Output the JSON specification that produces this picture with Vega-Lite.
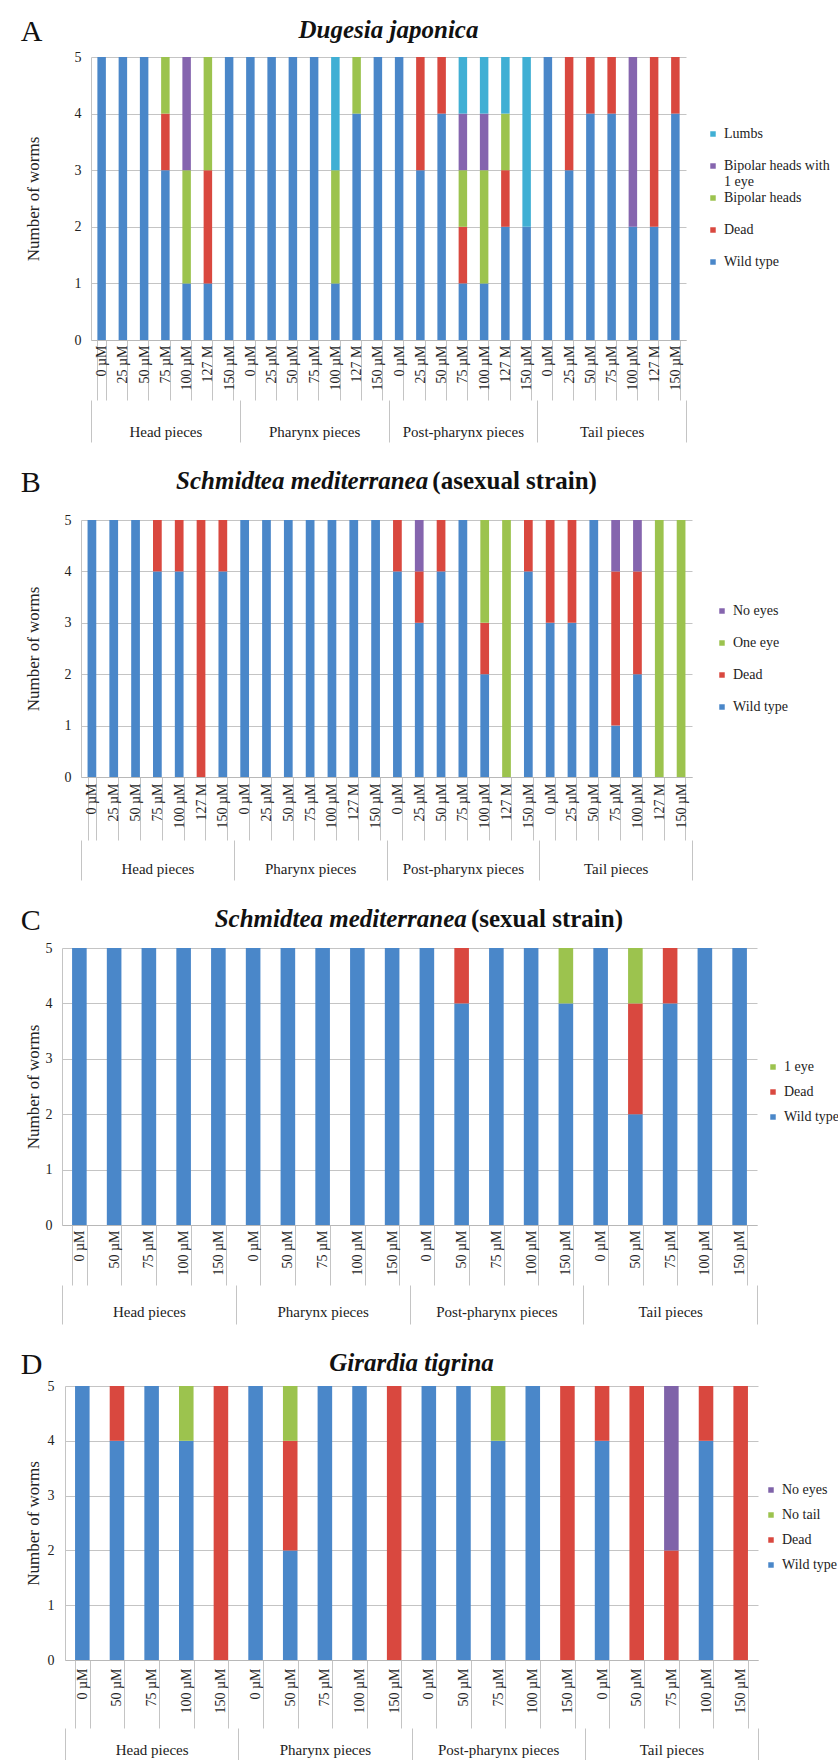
{
  "$schema": "https://vega.github.io/schema/vega-lite/v6.json",
  "background": "white",
  "padding": {"left": 17, "top": 17, "right": 0, "bottom": 0},
  "columns": 1,
  "align": "none",
  "spacing": 25,
  "config": {
    "font": "Liberation Serif",
    "view": {"stroke": null},
    "axis": {"labelFont": "Liberation Serif", "titleFont": "Liberation Serif", "labelColor": "#222", "titleColor": "#222", "domainColor": "#b8b8b8", "tickColor": "#c4c4c4", "gridColor": "#c4c4c4", "titleFontWeight": "normal"},
    "legend": {"labelFont": "Liberation Serif", "labelFontSize": 14, "labelColor": "#222", "symbolType": "square", "symbolSize": 30, "symbolStrokeWidth": 0, "padding": 0},
    "title": {"font": "Liberation Serif", "color": "#111"}
  },
  "datasets": {
    "S": [{"s": 0}],
    "A": [
      {"piece": "Head pieces", "key": "H|0 µM", "cat": "Wild type", "n": 5, "rank": 1},
      {"piece": "Head pieces", "key": "H|25 µM", "cat": "Wild type", "n": 5, "rank": 1},
      {"piece": "Head pieces", "key": "H|50 µM", "cat": "Wild type", "n": 5, "rank": 1},
      {"piece": "Head pieces", "key": "H|75 µM", "cat": "Wild type", "n": 3, "rank": 1},
      {"piece": "Head pieces", "key": "H|75 µM", "cat": "Dead", "n": 1, "rank": 2},
      {"piece": "Head pieces", "key": "H|75 µM", "cat": "Bipolar heads", "n": 1, "rank": 3},
      {"piece": "Head pieces", "key": "H|100 µM", "cat": "Wild type", "n": 1, "rank": 1},
      {"piece": "Head pieces", "key": "H|100 µM", "cat": "Bipolar heads", "n": 2, "rank": 3},
      {"piece": "Head pieces", "key": "H|100 µM", "cat": "Bipolar heads with 1 eye", "n": 2, "rank": 4},
      {"piece": "Head pieces", "key": "H|127 M", "cat": "Wild type", "n": 1, "rank": 1},
      {"piece": "Head pieces", "key": "H|127 M", "cat": "Dead", "n": 2, "rank": 2},
      {"piece": "Head pieces", "key": "H|127 M", "cat": "Bipolar heads", "n": 2, "rank": 3},
      {"piece": "Head pieces", "key": "H|150 µM", "cat": "Wild type", "n": 5, "rank": 1},
      {"piece": "Pharynx pieces", "key": "P|0 µM", "cat": "Wild type", "n": 5, "rank": 1},
      {"piece": "Pharynx pieces", "key": "P|25 µM", "cat": "Wild type", "n": 5, "rank": 1},
      {"piece": "Pharynx pieces", "key": "P|50 µM", "cat": "Wild type", "n": 5, "rank": 1},
      {"piece": "Pharynx pieces", "key": "P|75 µM", "cat": "Wild type", "n": 5, "rank": 1},
      {"piece": "Pharynx pieces", "key": "P|100 µM", "cat": "Wild type", "n": 1, "rank": 1},
      {"piece": "Pharynx pieces", "key": "P|100 µM", "cat": "Bipolar heads", "n": 2, "rank": 3},
      {"piece": "Pharynx pieces", "key": "P|100 µM", "cat": "Lumbs", "n": 2, "rank": 5},
      {"piece": "Pharynx pieces", "key": "P|127 M", "cat": "Wild type", "n": 4, "rank": 1},
      {"piece": "Pharynx pieces", "key": "P|127 M", "cat": "Bipolar heads", "n": 1, "rank": 3},
      {"piece": "Pharynx pieces", "key": "P|150 µM", "cat": "Wild type", "n": 5, "rank": 1},
      {"piece": "Post-pharynx pieces", "key": "PP|0 µM", "cat": "Wild type", "n": 5, "rank": 1},
      {"piece": "Post-pharynx pieces", "key": "PP|25 µM", "cat": "Wild type", "n": 3, "rank": 1},
      {"piece": "Post-pharynx pieces", "key": "PP|25 µM", "cat": "Dead", "n": 2, "rank": 2},
      {"piece": "Post-pharynx pieces", "key": "PP|50 µM", "cat": "Wild type", "n": 4, "rank": 1},
      {"piece": "Post-pharynx pieces", "key": "PP|50 µM", "cat": "Dead", "n": 1, "rank": 2},
      {"piece": "Post-pharynx pieces", "key": "PP|75 µM", "cat": "Wild type", "n": 1, "rank": 1},
      {"piece": "Post-pharynx pieces", "key": "PP|75 µM", "cat": "Dead", "n": 1, "rank": 2},
      {"piece": "Post-pharynx pieces", "key": "PP|75 µM", "cat": "Bipolar heads", "n": 1, "rank": 3},
      {"piece": "Post-pharynx pieces", "key": "PP|75 µM", "cat": "Bipolar heads with 1 eye", "n": 1, "rank": 4},
      {"piece": "Post-pharynx pieces", "key": "PP|75 µM", "cat": "Lumbs", "n": 1, "rank": 5},
      {"piece": "Post-pharynx pieces", "key": "PP|100 µM", "cat": "Wild type", "n": 1, "rank": 1},
      {"piece": "Post-pharynx pieces", "key": "PP|100 µM", "cat": "Bipolar heads", "n": 2, "rank": 3},
      {"piece": "Post-pharynx pieces", "key": "PP|100 µM", "cat": "Bipolar heads with 1 eye", "n": 1, "rank": 4},
      {"piece": "Post-pharynx pieces", "key": "PP|100 µM", "cat": "Lumbs", "n": 1, "rank": 5},
      {"piece": "Post-pharynx pieces", "key": "PP|127 M", "cat": "Wild type", "n": 2, "rank": 1},
      {"piece": "Post-pharynx pieces", "key": "PP|127 M", "cat": "Dead", "n": 1, "rank": 2},
      {"piece": "Post-pharynx pieces", "key": "PP|127 M", "cat": "Bipolar heads", "n": 1, "rank": 3},
      {"piece": "Post-pharynx pieces", "key": "PP|127 M", "cat": "Lumbs", "n": 1, "rank": 5},
      {"piece": "Post-pharynx pieces", "key": "PP|150 µM", "cat": "Wild type", "n": 2, "rank": 1},
      {"piece": "Post-pharynx pieces", "key": "PP|150 µM", "cat": "Lumbs", "n": 3, "rank": 5},
      {"piece": "Tail pieces", "key": "T|0 µM", "cat": "Wild type", "n": 5, "rank": 1},
      {"piece": "Tail pieces", "key": "T|25 µM", "cat": "Wild type", "n": 3, "rank": 1},
      {"piece": "Tail pieces", "key": "T|25 µM", "cat": "Dead", "n": 2, "rank": 2},
      {"piece": "Tail pieces", "key": "T|50 µM", "cat": "Wild type", "n": 4, "rank": 1},
      {"piece": "Tail pieces", "key": "T|50 µM", "cat": "Dead", "n": 1, "rank": 2},
      {"piece": "Tail pieces", "key": "T|75 µM", "cat": "Wild type", "n": 4, "rank": 1},
      {"piece": "Tail pieces", "key": "T|75 µM", "cat": "Dead", "n": 1, "rank": 2},
      {"piece": "Tail pieces", "key": "T|100 µM", "cat": "Wild type", "n": 2, "rank": 1},
      {"piece": "Tail pieces", "key": "T|100 µM", "cat": "Bipolar heads with 1 eye", "n": 3, "rank": 4},
      {"piece": "Tail pieces", "key": "T|127 M", "cat": "Wild type", "n": 2, "rank": 1},
      {"piece": "Tail pieces", "key": "T|127 M", "cat": "Dead", "n": 3, "rank": 2},
      {"piece": "Tail pieces", "key": "T|150 µM", "cat": "Wild type", "n": 4, "rank": 1},
      {"piece": "Tail pieces", "key": "T|150 µM", "cat": "Dead", "n": 1, "rank": 2}
    ],
    "B": [
      {"piece": "Head pieces", "key": "H|0 µM", "cat": "Wild type", "n": 5, "rank": 1},
      {"piece": "Head pieces", "key": "H|25 µM", "cat": "Wild type", "n": 5, "rank": 1},
      {"piece": "Head pieces", "key": "H|50 µM", "cat": "Wild type", "n": 5, "rank": 1},
      {"piece": "Head pieces", "key": "H|75 µM", "cat": "Wild type", "n": 4, "rank": 1},
      {"piece": "Head pieces", "key": "H|75 µM", "cat": "Dead", "n": 1, "rank": 2},
      {"piece": "Head pieces", "key": "H|100 µM", "cat": "Wild type", "n": 4, "rank": 1},
      {"piece": "Head pieces", "key": "H|100 µM", "cat": "Dead", "n": 1, "rank": 2},
      {"piece": "Head pieces", "key": "H|127 M", "cat": "Dead", "n": 5, "rank": 2},
      {"piece": "Head pieces", "key": "H|150 µM", "cat": "Wild type", "n": 4, "rank": 1},
      {"piece": "Head pieces", "key": "H|150 µM", "cat": "Dead", "n": 1, "rank": 2},
      {"piece": "Pharynx pieces", "key": "P|0 µM", "cat": "Wild type", "n": 5, "rank": 1},
      {"piece": "Pharynx pieces", "key": "P|25 µM", "cat": "Wild type", "n": 5, "rank": 1},
      {"piece": "Pharynx pieces", "key": "P|50 µM", "cat": "Wild type", "n": 5, "rank": 1},
      {"piece": "Pharynx pieces", "key": "P|75 µM", "cat": "Wild type", "n": 5, "rank": 1},
      {"piece": "Pharynx pieces", "key": "P|100 µM", "cat": "Wild type", "n": 5, "rank": 1},
      {"piece": "Pharynx pieces", "key": "P|127 M", "cat": "Wild type", "n": 5, "rank": 1},
      {"piece": "Pharynx pieces", "key": "P|150 µM", "cat": "Wild type", "n": 5, "rank": 1},
      {"piece": "Post-pharynx pieces", "key": "PP|0 µM", "cat": "Wild type", "n": 4, "rank": 1},
      {"piece": "Post-pharynx pieces", "key": "PP|0 µM", "cat": "Dead", "n": 1, "rank": 2},
      {"piece": "Post-pharynx pieces", "key": "PP|25 µM", "cat": "Wild type", "n": 3, "rank": 1},
      {"piece": "Post-pharynx pieces", "key": "PP|25 µM", "cat": "Dead", "n": 1, "rank": 2},
      {"piece": "Post-pharynx pieces", "key": "PP|25 µM", "cat": "No eyes", "n": 1, "rank": 4},
      {"piece": "Post-pharynx pieces", "key": "PP|50 µM", "cat": "Wild type", "n": 4, "rank": 1},
      {"piece": "Post-pharynx pieces", "key": "PP|50 µM", "cat": "Dead", "n": 1, "rank": 2},
      {"piece": "Post-pharynx pieces", "key": "PP|75 µM", "cat": "Wild type", "n": 5, "rank": 1},
      {"piece": "Post-pharynx pieces", "key": "PP|100 µM", "cat": "Wild type", "n": 2, "rank": 1},
      {"piece": "Post-pharynx pieces", "key": "PP|100 µM", "cat": "Dead", "n": 1, "rank": 2},
      {"piece": "Post-pharynx pieces", "key": "PP|100 µM", "cat": "One eye", "n": 2, "rank": 3},
      {"piece": "Post-pharynx pieces", "key": "PP|127 M", "cat": "One eye", "n": 5, "rank": 3},
      {"piece": "Post-pharynx pieces", "key": "PP|150 µM", "cat": "Wild type", "n": 4, "rank": 1},
      {"piece": "Post-pharynx pieces", "key": "PP|150 µM", "cat": "Dead", "n": 1, "rank": 2},
      {"piece": "Tail pieces", "key": "T|0 µM", "cat": "Wild type", "n": 3, "rank": 1},
      {"piece": "Tail pieces", "key": "T|0 µM", "cat": "Dead", "n": 2, "rank": 2},
      {"piece": "Tail pieces", "key": "T|25 µM", "cat": "Wild type", "n": 3, "rank": 1},
      {"piece": "Tail pieces", "key": "T|25 µM", "cat": "Dead", "n": 2, "rank": 2},
      {"piece": "Tail pieces", "key": "T|50 µM", "cat": "Wild type", "n": 5, "rank": 1},
      {"piece": "Tail pieces", "key": "T|75 µM", "cat": "Wild type", "n": 1, "rank": 1},
      {"piece": "Tail pieces", "key": "T|75 µM", "cat": "Dead", "n": 3, "rank": 2},
      {"piece": "Tail pieces", "key": "T|75 µM", "cat": "No eyes", "n": 1, "rank": 4},
      {"piece": "Tail pieces", "key": "T|100 µM", "cat": "Wild type", "n": 2, "rank": 1},
      {"piece": "Tail pieces", "key": "T|100 µM", "cat": "Dead", "n": 2, "rank": 2},
      {"piece": "Tail pieces", "key": "T|100 µM", "cat": "No eyes", "n": 1, "rank": 4},
      {"piece": "Tail pieces", "key": "T|127 M", "cat": "One eye", "n": 5, "rank": 3},
      {"piece": "Tail pieces", "key": "T|150 µM", "cat": "One eye", "n": 5, "rank": 3}
    ],
    "C": [
      {"piece": "Head pieces", "key": "H|0 µM", "cat": "Wild type", "n": 5, "rank": 1},
      {"piece": "Head pieces", "key": "H|50 µM", "cat": "Wild type", "n": 5, "rank": 1},
      {"piece": "Head pieces", "key": "H|75 µM", "cat": "Wild type", "n": 5, "rank": 1},
      {"piece": "Head pieces", "key": "H|100 µM", "cat": "Wild type", "n": 5, "rank": 1},
      {"piece": "Head pieces", "key": "H|150 µM", "cat": "Wild type", "n": 5, "rank": 1},
      {"piece": "Pharynx pieces", "key": "P|0 µM", "cat": "Wild type", "n": 5, "rank": 1},
      {"piece": "Pharynx pieces", "key": "P|50 µM", "cat": "Wild type", "n": 5, "rank": 1},
      {"piece": "Pharynx pieces", "key": "P|75 µM", "cat": "Wild type", "n": 5, "rank": 1},
      {"piece": "Pharynx pieces", "key": "P|100 µM", "cat": "Wild type", "n": 5, "rank": 1},
      {"piece": "Pharynx pieces", "key": "P|150 µM", "cat": "Wild type", "n": 5, "rank": 1},
      {"piece": "Post-pharynx pieces", "key": "PP|0 µM", "cat": "Wild type", "n": 5, "rank": 1},
      {"piece": "Post-pharynx pieces", "key": "PP|50 µM", "cat": "Wild type", "n": 4, "rank": 1},
      {"piece": "Post-pharynx pieces", "key": "PP|50 µM", "cat": "Dead", "n": 1, "rank": 2},
      {"piece": "Post-pharynx pieces", "key": "PP|75 µM", "cat": "Wild type", "n": 5, "rank": 1},
      {"piece": "Post-pharynx pieces", "key": "PP|100 µM", "cat": "Wild type", "n": 5, "rank": 1},
      {"piece": "Post-pharynx pieces", "key": "PP|150 µM", "cat": "Wild type", "n": 4, "rank": 1},
      {"piece": "Post-pharynx pieces", "key": "PP|150 µM", "cat": "1 eye", "n": 1, "rank": 3},
      {"piece": "Tail pieces", "key": "T|0 µM", "cat": "Wild type", "n": 5, "rank": 1},
      {"piece": "Tail pieces", "key": "T|50 µM", "cat": "Wild type", "n": 2, "rank": 1},
      {"piece": "Tail pieces", "key": "T|50 µM", "cat": "Dead", "n": 2, "rank": 2},
      {"piece": "Tail pieces", "key": "T|50 µM", "cat": "1 eye", "n": 1, "rank": 3},
      {"piece": "Tail pieces", "key": "T|75 µM", "cat": "Wild type", "n": 4, "rank": 1},
      {"piece": "Tail pieces", "key": "T|75 µM", "cat": "Dead", "n": 1, "rank": 2},
      {"piece": "Tail pieces", "key": "T|100 µM", "cat": "Wild type", "n": 5, "rank": 1},
      {"piece": "Tail pieces", "key": "T|150 µM", "cat": "Wild type", "n": 5, "rank": 1}
    ],
    "D": [
      {"piece": "Head pieces", "key": "H|0 µM", "cat": "Wild type", "n": 5, "rank": 1},
      {"piece": "Head pieces", "key": "H|50 µM", "cat": "Wild type", "n": 4, "rank": 1},
      {"piece": "Head pieces", "key": "H|50 µM", "cat": "Dead", "n": 1, "rank": 2},
      {"piece": "Head pieces", "key": "H|75 µM", "cat": "Wild type", "n": 5, "rank": 1},
      {"piece": "Head pieces", "key": "H|100 µM", "cat": "Wild type", "n": 4, "rank": 1},
      {"piece": "Head pieces", "key": "H|100 µM", "cat": "No tail", "n": 1, "rank": 3},
      {"piece": "Head pieces", "key": "H|150 µM", "cat": "Dead", "n": 5, "rank": 2},
      {"piece": "Pharynx pieces", "key": "P|0 µM", "cat": "Wild type", "n": 5, "rank": 1},
      {"piece": "Pharynx pieces", "key": "P|50 µM", "cat": "Wild type", "n": 2, "rank": 1},
      {"piece": "Pharynx pieces", "key": "P|50 µM", "cat": "Dead", "n": 2, "rank": 2},
      {"piece": "Pharynx pieces", "key": "P|50 µM", "cat": "No tail", "n": 1, "rank": 3},
      {"piece": "Pharynx pieces", "key": "P|75 µM", "cat": "Wild type", "n": 5, "rank": 1},
      {"piece": "Pharynx pieces", "key": "P|100 µM", "cat": "Wild type", "n": 5, "rank": 1},
      {"piece": "Pharynx pieces", "key": "P|150 µM", "cat": "Dead", "n": 5, "rank": 2},
      {"piece": "Post-pharynx pieces", "key": "PP|0 µM", "cat": "Wild type", "n": 5, "rank": 1},
      {"piece": "Post-pharynx pieces", "key": "PP|50 µM", "cat": "Wild type", "n": 5, "rank": 1},
      {"piece": "Post-pharynx pieces", "key": "PP|75 µM", "cat": "Wild type", "n": 4, "rank": 1},
      {"piece": "Post-pharynx pieces", "key": "PP|75 µM", "cat": "No tail", "n": 1, "rank": 3},
      {"piece": "Post-pharynx pieces", "key": "PP|100 µM", "cat": "Wild type", "n": 5, "rank": 1},
      {"piece": "Post-pharynx pieces", "key": "PP|150 µM", "cat": "Dead", "n": 5, "rank": 2},
      {"piece": "Tail pieces", "key": "T|0 µM", "cat": "Wild type", "n": 4, "rank": 1},
      {"piece": "Tail pieces", "key": "T|0 µM", "cat": "Dead", "n": 1, "rank": 2},
      {"piece": "Tail pieces", "key": "T|50 µM", "cat": "Dead", "n": 5, "rank": 2},
      {"piece": "Tail pieces", "key": "T|75 µM", "cat": "Dead", "n": 2, "rank": 2},
      {"piece": "Tail pieces", "key": "T|75 µM", "cat": "No eyes", "n": 3, "rank": 4},
      {"piece": "Tail pieces", "key": "T|100 µM", "cat": "Wild type", "n": 4, "rank": 1},
      {"piece": "Tail pieces", "key": "T|100 µM", "cat": "Dead", "n": 1, "rank": 2},
      {"piece": "Tail pieces", "key": "T|150 µM", "cat": "Dead", "n": 5, "rank": 2}
    ]
  },
  "concat": [
    {
      "title": {"text": "A", "anchor": "start", "frame": "bounds", "fontSize": 30, "fontWeight": "normal", "offset": -29, "dx": 3},
      "spacing": 0,
      "hconcat": [
        {"width": 3, "height": 1, "data": {"name": "S"}, "mark": {"type": "point", "opacity": 0}, "encoding": {}},
        {
        "width": 595, "height": 283,
        "title": {"text": "Dugesia japonica", "fontSize": 25, "fontWeight": "bold", "fontStyle": "italic", "anchor": "middle", "offset": 7},
        "data": {"name": "A"},
        "layer": [
          {"mark": {"type": "bar"},
           "encoding": {
             "x": {"field": "key", "type": "nominal", "sort": null, "scale": {"paddingInner": 0.6, "paddingOuter": 0.3},
                   "axis": {"title": null, "labelExpr": "split(datum.value, '|')[1]", "labelAngle": -90, "labelFontSize": 14, "tickSize": 60, "labelPadding": -55, "tickBand": "extent", "labelOverlap": false, "labelBound": false, "grid": false}},
             "y": {"field": "n", "type": "quantitative", "stack": "zero", "scale": {"domain": [0, 5]},
                   "axis": {"title": "Number of worms", "titleFontSize": 17, "titlePadding": 32, "labelFontSize": 14, "labelPadding": 10, "ticks": false, "values": [0, 1, 2, 3, 4, 5], "grid": true, "domain": true, "domainColor": "#c4c4c4"}},
             "color": {"field": "cat", "type": "nominal",
                       "scale": {"domain": ["Lumbs", "Bipolar heads with 1 eye", "Bipolar heads", "Dead", "Wild type"], "range": ["#40afd4", "#8565ae", "#9cc34e", "#d9483f", "#4a87c9"]},
                       "legend": {"title": null, "orient": "none", "legendX": 687, "legendY": 70, "gridAlign": "all", "rowPadding": 2, "labelExpr": "datum.label == 'Bipolar heads with 1 eye' ? ['Bipolar heads with', '1 eye'] : datum.label"}},
             "order": {"field": "rank", "type": "quantitative"}
           }},
          {"mark": {"type": "point", "opacity": 0},
           "encoding": {
             "x": {"field": "piece", "type": "nominal", "sort": null, "scale": {"type": "band", "paddingInner": 0, "paddingOuter": 0},
                   "axis": {"orient": "bottom", "title": null, "offset": 60, "tickSize": 42, "tickBand": "extent", "domain": false, "labelPadding": -18, "labelFontSize": 15, "labelAngle": 0, "grid": false}}
           }}
        ],
        "resolve": {"scale": {"x": "independent"}, "axis": {"x": "independent"}}
      }]
    },
    {
      "title": {"text": "B", "anchor": "start", "frame": "bounds", "fontSize": 30, "fontWeight": "normal", "offset": -29, "dx": 3},
      "spacing": 0,
      "hconcat": [
        {"width": 3, "height": 1, "data": {"name": "S"}, "mark": {"type": "point", "opacity": 0}, "encoding": {}},
        {
        "width": 611, "height": 257,
        "title": {"text": "Schmidtea mediterranea\u00a0\u00a0\u00a0\u00a0\u00a0\u00a0\u00a0\u00a0\u00a0\u00a0\u00a0\u00a0\u00a0\u00a0\u00a0\u00a0\u00a0\u00a0\u00a0\u00a0\u00a0\u00a0\u00a0\u00a0\u00a0\u00a0\u00a0\u200b",
                  "subtitle": "\u200b\u00a0\u00a0\u00a0\u00a0\u00a0\u00a0\u00a0\u00a0\u00a0\u00a0\u00a0\u00a0\u00a0\u00a0\u00a0\u00a0\u00a0\u00a0\u00a0\u00a0\u00a0\u00a0\u00a0\u00a0\u00a0\u00a0\u00a0\u00a0\u00a0\u00a0\u00a0\u00a0\u00a0\u00a0\u00a0\u00a0\u00a0\u00a0\u00a0\u00a0\u00a0(asexual strain)",
                  "fontSize": 25, "fontWeight": "bold", "fontStyle": "italic", "subtitleFont": "Liberation Serif", "subtitleFontSize": 25, "subtitleFontWeight": "bold", "subtitleFontStyle": "normal", "subtitleColor": "#111", "subtitlePadding": -25, "anchor": "middle", "offset": 19},
        "data": {"name": "B"},
        "layer": [
          {"mark": {"type": "bar"},
           "encoding": {
             "x": {"field": "key", "type": "nominal", "sort": null, "scale": {"paddingInner": 0.6, "paddingOuter": 0.3},
                   "axis": {"title": null, "labelExpr": "split(datum.value, '|')[1]", "labelAngle": -90, "labelFontSize": 14, "tickSize": 63, "labelPadding": -57, "tickBand": "extent", "labelOverlap": false, "labelBound": false, "grid": false}},
             "y": {"field": "n", "type": "quantitative", "stack": "zero", "scale": {"domain": [0, 5]},
                   "axis": {"title": "Number of worms", "titleFontSize": 17, "titlePadding": 22, "labelFontSize": 14, "labelPadding": 10, "ticks": false, "values": [0, 1, 2, 3, 4, 5], "grid": true, "domain": true, "domainColor": "#c4c4c4"}},
             "color": {"field": "cat", "type": "nominal",
                       "scale": {"domain": ["No eyes", "One eye", "Dead", "Wild type"], "range": ["#8565ae", "#9cc34e", "#d9483f", "#4a87c9"]},
                       "legend": {"title": null, "orient": "none", "legendX": 696, "legendY": 84, "rowPadding": 18}},
             "order": {"field": "rank", "type": "quantitative"}
           }},
          {"mark": {"type": "point", "opacity": 0},
           "encoding": {
             "x": {"field": "piece", "type": "nominal", "sort": null, "scale": {"type": "band", "paddingInner": 0, "paddingOuter": 0},
                   "axis": {"orient": "bottom", "title": null, "offset": 63, "tickSize": 40, "tickBand": "extent", "domain": false, "labelPadding": -19, "labelFontSize": 15, "labelAngle": 0, "grid": false}}
           }}
        ],
        "resolve": {"scale": {"x": "independent"}, "axis": {"x": "independent"}}
      }]
    },
    {
      "title": {"text": "C", "anchor": "start", "frame": "bounds", "fontSize": 30, "fontWeight": "normal", "offset": -29, "dx": 3},
      "spacing": 0,
      "hconcat": [
        {"width": 3, "height": 1, "data": {"name": "S"}, "mark": {"type": "point", "opacity": 0}, "encoding": {}},
        {
        "width": 695, "height": 277,
        "title": {"text": "\u200b\u00a0\u00a0\u00a0Schmidtea mediterranea\u00a0\u00a0\u00a0\u00a0\u00a0\u00a0\u00a0\u00a0\u00a0\u00a0\u00a0\u00a0\u00a0\u00a0\u00a0\u00a0\u00a0\u00a0\u00a0\u00a0\u00a0\u00a0\u00a0\u00a0\u00a0\u200b",
                  "subtitle": "\u200b\u00a0\u00a0\u00a0\u00a0\u00a0\u00a0\u00a0\u00a0\u00a0\u00a0\u00a0\u00a0\u00a0\u00a0\u00a0\u00a0\u00a0\u00a0\u00a0\u00a0\u00a0\u00a0\u00a0\u00a0\u00a0\u00a0\u00a0\u00a0\u00a0\u00a0\u00a0\u00a0\u00a0\u00a0\u00a0\u00a0\u00a0\u00a0\u00a0\u00a0\u00a0\u00a0\u00a0\u00a0(sexual strain)",
                  "fontSize": 25, "fontWeight": "bold", "fontStyle": "italic", "subtitleFont": "Liberation Serif", "subtitleFontSize": 25, "subtitleFontWeight": "bold", "subtitleFontStyle": "normal", "subtitleColor": "#111", "subtitlePadding": -25, "anchor": "middle", "offset": 9},
        "data": {"name": "C"},
        "layer": [
          {"mark": {"type": "bar"},
           "encoding": {
             "x": {"field": "key", "type": "nominal", "sort": null, "scale": {"paddingInner": 0.58, "paddingOuter": 0.29},
                   "axis": {"title": null, "labelExpr": "split(datum.value, '|')[1]", "labelAngle": -90, "labelFontSize": 14, "tickSize": 60, "labelPadding": -55, "tickBand": "extent", "labelOverlap": false, "labelBound": false, "grid": false}},
             "y": {"field": "n", "type": "quantitative", "stack": "zero", "scale": {"domain": [0, 5]},
                   "axis": {"title": "Number of worms", "titleFontSize": 17, "titlePadding": 3, "labelFontSize": 14, "labelPadding": 10, "ticks": false, "values": [0, 1, 2, 3, 4, 5], "grid": true, "domain": true, "domainColor": "#c4c4c4"}},
             "color": {"field": "cat", "type": "nominal",
                       "scale": {"domain": ["1 eye", "Dead", "Wild type"], "range": ["#9cc34e", "#d9483f", "#4a87c9"]},
                       "legend": {"title": null, "orient": "none", "legendX": 747, "legendY": 112, "rowPadding": 11}},
             "order": {"field": "rank", "type": "quantitative"}
           }},
          {"mark": {"type": "point", "opacity": 0},
           "encoding": {
             "x": {"field": "piece", "type": "nominal", "sort": null, "scale": {"type": "band", "paddingInner": 0, "paddingOuter": 0},
                   "axis": {"orient": "bottom", "title": null, "offset": 60, "tickSize": 39, "tickBand": "extent", "domain": false, "labelPadding": -20, "labelFontSize": 15, "labelAngle": 0, "grid": false}}
           }}
        ],
        "resolve": {"scale": {"x": "independent"}, "axis": {"x": "independent"}}
      }]
    },
    {
      "title": {"text": "D", "anchor": "start", "frame": "bounds", "fontSize": 30, "fontWeight": "normal", "offset": -29, "dx": 3},
      "spacing": 0,
      "hconcat": [
        {"width": 3, "height": 1, "data": {"name": "S"}, "mark": {"type": "point", "opacity": 0}, "encoding": {}},
        {
        "width": 693, "height": 274,
        "title": {"text": "Girardia tigrina", "fontSize": 25, "fontWeight": "bold", "fontStyle": "italic", "anchor": "middle", "offset": 3},
        "data": {"name": "D"},
        "layer": [
          {"mark": {"type": "bar"},
           "encoding": {
             "x": {"field": "key", "type": "nominal", "sort": null, "scale": {"paddingInner": 0.58, "paddingOuter": 0.29},
                   "axis": {"title": null, "labelExpr": "split(datum.value, '|')[1]", "labelAngle": -90, "labelFontSize": 14, "tickSize": 68, "labelPadding": -60, "tickBand": "extent", "labelOverlap": false, "labelBound": false, "grid": false}},
             "y": {"field": "n", "type": "quantitative", "stack": "zero", "scale": {"domain": [0, 5]},
                   "axis": {"title": "Number of worms", "titleFontSize": 17, "titlePadding": 5, "labelFontSize": 14, "labelPadding": 11, "ticks": false, "values": [0, 1, 2, 3, 4, 5], "grid": true, "domain": true, "domainColor": "#c4c4c4"}},
             "color": {"field": "cat", "type": "nominal",
                       "scale": {"domain": ["No eyes", "No tail", "Dead", "Wild type"], "range": ["#7f63a9", "#9cc34e", "#d9483f", "#4a87c9"]},
                       "legend": {"title": null, "orient": "none", "legendX": 745, "legendY": 97, "rowPadding": 11}},
             "order": {"field": "rank", "type": "quantitative"}
           }},
          {"mark": {"type": "point", "opacity": 0},
           "encoding": {
             "x": {"field": "piece", "type": "nominal", "sort": null, "scale": {"type": "band", "paddingInner": 0, "paddingOuter": 0},
                   "axis": {"orient": "bottom", "title": null, "offset": 68, "tickSize": 32, "tickBand": "extent", "domain": false, "labelPadding": -18, "labelFontSize": 15, "labelAngle": 0, "grid": false}}
           }}
        ],
        "resolve": {"scale": {"x": "independent"}, "axis": {"x": "independent"}}
      }]
    }
  ],
  "resolve": {"scale": {"color": "independent"}, "legend": {"color": "independent"}}
}
